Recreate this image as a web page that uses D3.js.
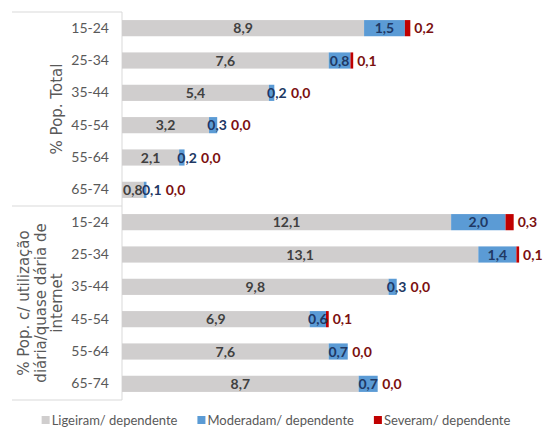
<!DOCTYPE html>
<html>
<head>
<meta charset="utf-8">
<script src="https://cdn.jsdelivr.net/npm/d3@7"></script>
<style>
  body { margin: 0; background: #fff; }
  svg { display: block; }
  .tick text { font-family: Lato, sans-serif; font-size: 14px; fill: #595959; }
</style>
</head>
<body>
<svg id="chart" width="543" height="430"></svg>
<script>
const groups = ["% Pop. Total", "% Pop. c/ utilização|diária/quase dária de|internet"];
const ages = ["15-24", "25-34", "35-44", "45-54", "55-64", "65-74"];
const seriesNames = ["Ligeiram/ dependente", "Moderadam/ dependente", "Severam/ dependente"];
const seriesColors = ["#d0cece", "#5b9bd5", "#c00000"];
const labelColors = ["#404040", "#203864", "#7b1010"];

const light = [8.9, 7.6, 5.4, 3.2, 2.1, 0.8, 12.1, 13.1, 9.8, 6.9, 7.6, 8.7];
const moderate = [1.5, 0.8, 0.2, 0.3, 0.2, 0.1, 2.0, 1.4, 0.3, 0.6, 0.7, 0.7];
const severe = [0.2, 0.1, 0.0, 0.0, 0.0, 0.0, 0.3, 0.1, 0.0, 0.1, 0.0, 0.0];

const rows = groups.flatMap((g, gi) => ages.map((a, ai) => ({ key: gi + "|" + a, group: gi, age: a, i: gi * ages.length + ai })));
const rowData = rows.map((r) => ({ ...r, values: [light[r.i], moderate[r.i], severe[r.i]] }));

const svg = d3.select("#chart");
const plotLeft = 122, plotTop = 12, plotBottom = 400;
const fmt = (v) => v.toFixed(1).replace(".", ",");

const x = d3.scaleLinear().domain([0, 15]).range([plotLeft, plotLeft + 15 * 27.2]);
const y = d3.scaleBand().domain(rows.map((r) => r.key)).range([plotTop, plotBottom]).paddingInner(0.5).paddingOuter(0.25);

// frame lines around the category axis
const lineColor = "#d9d9d9";
const groupEdges = [plotTop, plotTop + ages.length * y.step(), plotBottom];
groupEdges.forEach((yy) => {
  svg.append("line").attr("x1", 12).attr("x2", plotLeft).attr("y1", yy).attr("y2", yy)
    .attr("stroke", lineColor).attr("stroke-width", 1);
});
svg.append("line").attr("x1", plotLeft).attr("x2", plotLeft).attr("y1", plotTop).attr("y2", plotBottom)
  .attr("stroke", lineColor).attr("stroke-width", 1);

// age ticks
const yAxis = d3.axisLeft(y).tickSize(0).tickPadding(13).tickFormat((k) => k.split("|")[1]);
const axisG = svg.append("g").attr("transform", `translate(${plotLeft},0)`).call(yAxis);
axisG.select(".domain").remove();
axisG.attr("font-size", null).attr("font-family", null);

// group labels (rotated)
groups.forEach((g, gi) => {
  const lines = g.split("|");
  const cy = (groupEdges[gi] + groupEdges[gi + 1]) / 2;
  const lastBase = 62;
  lines.forEach((ln, li) => {
    const bx = lastBase - (lines.length - 1 - li) * 16.5;
    svg.append("text")
      .attr("transform", `translate(${bx},${cy}) rotate(-90)`)
      .attr("text-anchor", "middle")
      .attr("font-family", "DejaVu Sans, sans-serif")
      .attr("font-size", 15)
      .attr("fill", "#595959")
      .text(ln);
  });
});

// stacked bars
const bars = svg.append("g");
rowData.forEach((d) => {
  let acc = 0;
  d.values.forEach((v, si) => {
    bars.append("rect")
      .attr("x", x(acc))
      .attr("y", y(d.key))
      .attr("width", x(acc + v) - x(acc))
      .attr("height", y.bandwidth())
      .attr("fill", seriesColors[si]);
    acc += v;
  });
});

// value labels
const labels = svg.append("g")
  .attr("font-family", "Lato, sans-serif")
  .attr("font-weight", "bold")
  .attr("font-size", 14);
rowData.forEach((d) => {
  const [a, b, c] = d.values;
  const cy = y(d.key) + y.bandwidth() / 2 + 5;
  labels.append("text").attr("x", x(a / 2)).attr("y", cy)
    .attr("text-anchor", "middle").attr("fill", labelColors[0]).text(fmt(a));
  const blueMid = Math.max(x(a + b / 2), x(a) + 8);
  labels.append("text").attr("x", blueMid).attr("y", cy)
    .attr("text-anchor", "middle").attr("fill", labelColors[1]).text(fmt(b));
  const redX = Math.max(x(a + b + c) + 4, blueMid + 14);
  labels.append("text").attr("x", redX).attr("y", cy)
    .attr("text-anchor", "start").attr("fill", labelColors[2]).text(fmt(c));
});

// legend, laid out from measured text widths and centred
const legend = svg.append("g").attr("font-family", "Lato, sans-serif")
  .attr("font-size", 13).attr("fill", "#595959");
const items = seriesNames.map((n, i) => {
  const g = legend.append("g");
  g.append("rect").attr("y", 416).attr("width", 8).attr("height", 8).attr("fill", seriesColors[i]);
  const t = g.append("text").attr("x", 10).attr("y", 425).text(n);
  return { g, w: 10 + t.node().getComputedTextLength() };
});
const gap = 20;
const total = d3.sum(items, (d) => d.w) + gap * (items.length - 1);
let lx = 276 - total / 2;
items.forEach((it) => {
  it.g.attr("transform", `translate(${lx},0)`);
  lx += it.w + gap;
});
</script>
</body>
</html>
